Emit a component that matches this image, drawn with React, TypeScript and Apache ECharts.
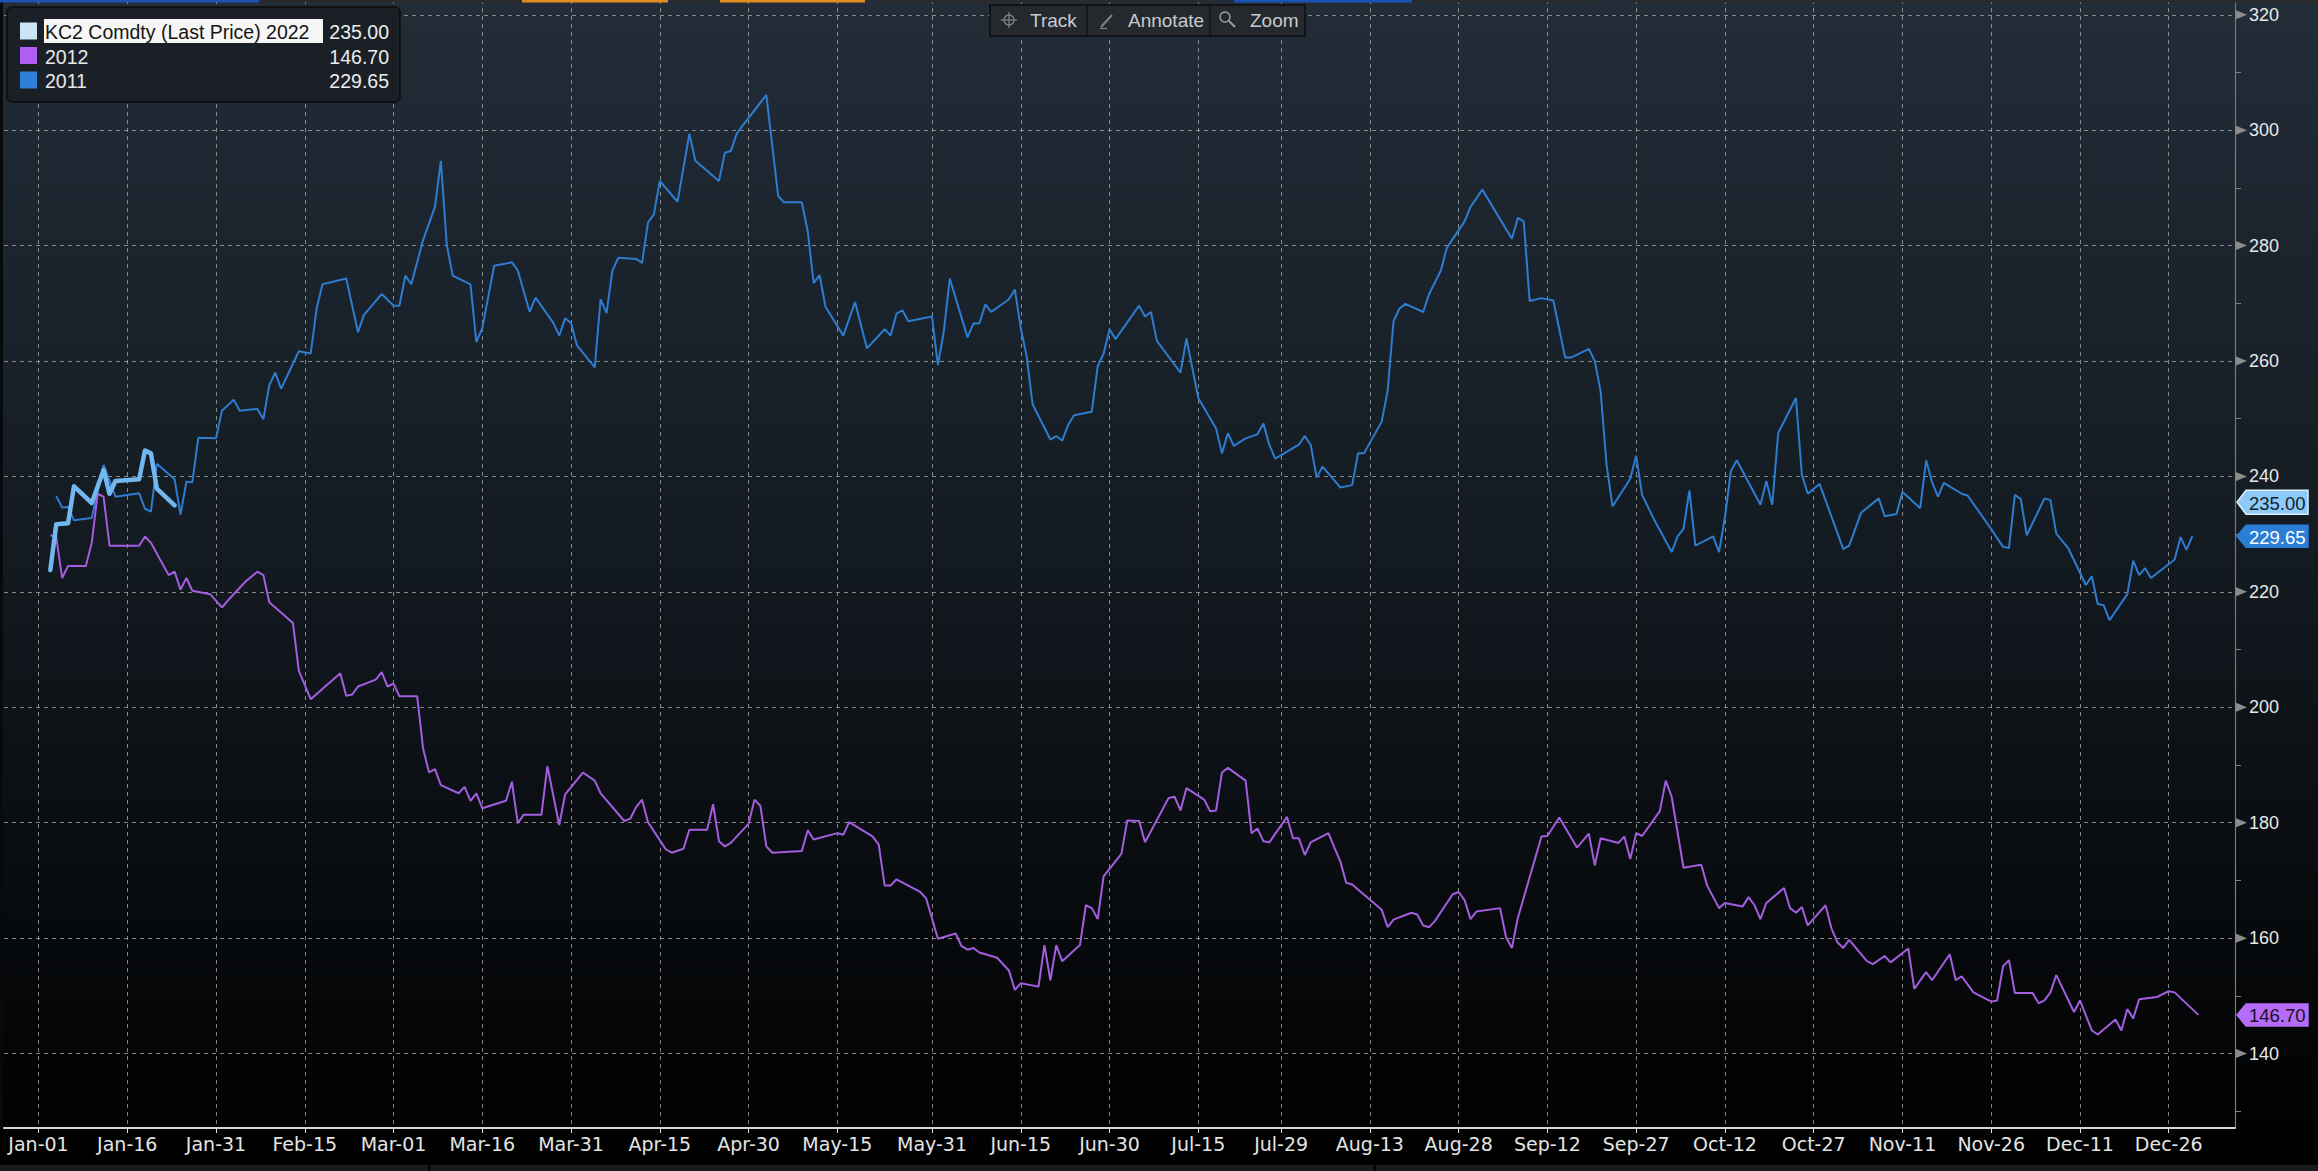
import React, { useEffect, useRef } from "react";
import * as echarts from "echarts";

const W = 2318;
const H = 1171;

// ---- axis ticks (leap-year calendar, day 0 = Jan-01) ----
const tickLabels = [
  "Jan-01", "Jan-16", "Jan-31", "Feb-15", "Mar-01", "Mar-16", "Mar-31", "Apr-15", "Apr-30",
  "May-15", "May-31", "Jun-15", "Jun-30", "Jul-15", "Jul-29", "Aug-13", "Aug-28", "Sep-12",
  "Sep-27", "Oct-12", "Oct-27", "Nov-11", "Nov-26", "Dec-11", "Dec-26",
];
const monthNames = ["Jan", "Feb", "Mar", "Apr", "May", "Jun", "Jul", "Aug", "Sep", "Oct", "Nov", "Dec"];
const monthDays = [31, 29, 31, 30, 31, 30, 31, 31, 30, 31, 30, 31];
const yTicks = [140, 160, 180, 200, 220, 240, 260, 280, 300, 320];
const yMinorTicks = [130, 150, 170, 190, 210, 230, 250, 270, 290, 310];

// ---- series ----
const seriesNames = ["KC2 Comdty (Last Price) 2022", "2012", "2011"];

const days2022 = [2, 3, 5, 6, 9, 11, 12, 13, 17, 18, 19, 20, 23];
const vals2022 = [223.8, 231.7, 231.9, 238.3, 235.4, 241.1, 237.0, 239.2, 239.5, 244.5, 244.0, 237.9, 235.0];

const days2012 = [
  2, 3, 4, 5, 8, 9, 10, 11, 12, 17, 18, 19, 22, 23, 24, 25, 26, 29, 31, 32, 35, 37, 38, 39, 43, 44, 46,
  51, 52, 53, 54, 57, 58, 59, 60, 61, 64, 65, 66, 67, 68, 71, 72, 73, 74, 75, 79, 80, 81, 82, 85, 86,
  88, 89, 92, 94, 95, 99, 100, 101, 102, 103, 106, 107, 109, 110, 113, 114, 115, 116, 117, 120, 121,
  122, 123, 124, 129, 130, 131, 135, 136, 137, 141, 142, 143, 144, 145, 149, 150, 152, 155, 156, 157,
  158, 159, 162, 164, 165, 166, 169, 170, 171, 172, 173, 176, 177, 178, 179, 180, 183, 184, 186, 187,
  191, 192, 193, 194, 197, 198, 199, 200, 201, 204, 205, 206, 207, 208, 211, 212, 213, 214, 215, 218,
  219, 220, 221, 222, 227, 228, 229, 232, 233, 234, 235, 236, 239, 240, 241, 242, 243, 247, 248, 249,
  250, 254, 255, 257, 260, 262, 263, 264, 267, 268, 269, 270, 271, 274, 275, 276, 278, 281, 282, 284,
  285, 288, 289, 290, 291, 292, 295, 296, 297, 298, 299, 302, 303, 304, 305, 306, 309, 310, 312, 313,
  316, 317, 319, 320, 323, 324, 325, 327, 330, 331, 332, 333, 334, 337, 338, 339, 340, 341, 344, 345,
  347, 348, 351, 352, 353, 354, 355, 358, 360, 361, 365,
];
const vals2012 = [
  229.8, 229.5, 222.4, 224.5, 224.5, 228.5, 237.0, 236.5, 228.0, 228.0, 229.6, 228.5, 222.9, 223.5,
  220.4, 222.4, 220.2, 219.6, 217.3, 218.5, 221.8, 223.5, 222.9, 218.2, 214.6, 206.3, 201.4,
  205.9, 202.0, 202.2, 203.6, 204.8, 206.1, 203.6, 204.1, 201.9, 201.9, 192.8, 188.7, 189.3, 186.5,
  185.1, 186.2, 183.8, 185.1, 182.5, 183.8, 187.1, 179.9, 181.4, 181.4, 189.8,
  179.6, 184.9, 188.7, 187.3, 185.1, 180.3, 180.7, 182.7, 184.0, 180.1, 175.4, 174.8, 175.5, 178.8,
  178.8, 183.2, 176.8, 175.9, 176.5, 179.8, 184.0,
  182.9, 175.9, 174.8, 175.1, 178.7, 177.1, 178.2, 177.9, 180.1, 177.6, 176.2, 169.1, 169.1, 170.2,
  168.0, 166.9, 159.9, 160.8, 158.6, 158.0,
  158.3, 157.5, 156.6, 154.4, 151.0, 152.2, 151.6, 158.8, 152.7, 158.8, 156.0, 158.8, 165.7, 165.2,
  163.3, 170.7, 174.6, 180.4, 180.3, 176.6,
  184.3, 184.5, 182.1, 186.0, 184.0, 182.0, 182.1, 188.7, 189.5, 187.3, 178.2, 179.0, 176.8, 176.6,
  181.0, 177.3, 177.3, 174.4, 176.6, 178.2,
  175.7, 173.3, 169.6, 169.3, 164.9, 161.9, 163.2, 164.4, 164.1, 162.2, 161.9, 163.0, 167.6, 168.0,
  166.6, 163.3, 164.6, 165.2, 160.2, 158.3,
  163.5, 177.6, 177.7, 180.9, 175.7, 178.1, 172.6, 177.3, 176.5, 177.6, 173.7, 178.2, 177.7, 182.0,
  187.3, 184.5, 172.2, 172.7, 169.1, 165.2,
  166.1, 165.5, 167.1, 165.7, 163.3, 166.1, 168.7, 165.2, 164.4, 165.4, 162.2, 165.7, 161.7, 159.3,
  158.3, 159.7, 156.0, 155.5, 156.9, 155.8,
  158.2, 151.2, 154.1, 152.7, 157.2, 152.7, 153.4, 150.6, 149.0, 149.2, 155.1, 156.2, 150.5, 150.5,
  148.7, 149.2, 150.6, 153.6, 147.2, 149.2,
  144.0, 143.3, 145.9, 144.0, 147.7, 146.1, 149.4, 149.8, 150.8, 150.6, 146.7,
];

const days2011 = [
  3, 4, 5, 6, 9, 11, 13, 17, 18, 19, 20, 23, 24, 25, 26, 27, 30, 31, 33, 34, 37, 38, 39, 40, 41, 44,
  46, 47, 48, 52, 54, 55, 58, 60, 61, 62, 63, 65, 67, 68, 69, 70, 73, 74, 75, 77, 80, 81, 83, 84, 87,
  88, 89, 90, 91, 94, 95, 96, 97, 98, 101, 102, 103, 104, 105, 108, 110, 111, 115, 116, 117, 118,
  119, 123, 125, 126, 129, 130, 131, 132, 133, 136, 138, 140, 143, 144, 145, 146, 147, 151, 152, 153,
  154, 157, 158, 159, 160, 161, 164, 165, 166, 167, 168, 171, 172, 173, 174, 175, 178, 179, 180, 181,
  182, 186, 187, 188, 189, 193, 194, 196, 199, 200, 201, 202, 204, 206, 207, 208, 209, 213, 214, 215,
  216, 217, 220, 222, 223, 224, 227, 228, 229, 230, 231, 234, 235, 237, 238, 241, 242, 244, 249, 250,
  251, 252, 254, 256, 258, 259, 262, 263, 264, 265, 266, 269, 270, 271, 273, 276, 277, 278, 279, 280,
  283, 284, 285, 286, 287, 291, 292, 293, 294, 297, 298, 299, 301, 305, 306, 308, 311, 312, 314, 315,
  318, 319, 320, 321, 322, 325, 326, 330, 332, 333, 334, 335, 336, 339, 340, 341, 343, 346, 347, 348,
  349, 350, 353, 354, 355, 356, 357, 361, 362, 363, 364,
];
const vals2011 = [
  236.6, 234.6, 234.7, 232.4, 232.8, 242.0, 236.5, 237.1, 234.4, 233.9, 242.2, 239.5, 233.4, 239.1,
  239.0, 246.7, 246.6, 251.4, 253.3, 251.4, 251.7, 249.9, 255.8, 258.0, 255.2, 261.7,
  261.3, 269.1, 273.3, 274.3, 265.0, 268.0, 271.6, 269.6, 269.6, 274.8, 273.3, 281.0, 286.7, 294.7,
  280.1, 274.8, 273.3, 263.3, 265.7, 276.5, 277.1, 275.7, 268.5, 271.0, 266.6,
  264.4, 267.4, 266.6, 262.7, 258.9, 270.7, 268.3, 275.7, 277.9, 277.7, 277.0, 284.0, 285.4, 291.2,
  287.6, 299.4, 294.7, 291.2, 296.1, 296.4, 299.4,
  300.8, 306.1, 288.6, 287.5, 287.5, 282.5, 273.5, 274.9, 269.4, 264.4, 270.2, 262.2, 265.5, 264.4,
  268.2, 268.8, 266.9, 267.7, 259.3, 265.2,
  274.3, 264.1, 266.5, 266.5, 269.8, 268.5, 270.7, 272.4, 265.7, 260.8, 252.5, 246.4, 247.0, 246.2,
  248.9, 250.6, 251.2, 259.1, 261.3, 265.5,
  263.8, 269.6, 267.7, 268.5, 263.5, 258.0, 263.9, 253.6, 248.3, 244.0, 247.5, 245.3, 246.6, 247.3,
  249.2, 245.5, 243.1, 245.5, 247.0, 245.5,
  239.8, 241.7, 238.1, 238.5, 244.0, 244.0, 249.5, 254.9, 266.9, 269.1, 269.9, 268.5, 271.6, 275.7,
  279.6, 284.2, 286.7, 289.7, 281.2, 284.8,
  284.2, 270.4, 270.9, 270.5, 260.6, 260.6, 262.1, 260.0, 254.7, 242.0, 234.8, 239.6, 243.6, 236.8,
  232.6, 226.9, 229.6, 230.9, 237.6, 228.0,
  229.6, 226.9, 232.9, 240.9, 242.8, 235.1, 239.2, 235.1, 247.5, 253.6, 240.3, 237.0, 238.7, 227.4,
  228.0, 233.7, 236.2, 233.1, 233.5, 237.3,
  234.5, 242.8, 239.0, 236.5, 238.9, 237.0, 236.7, 230.9, 227.8, 227.6, 236.8, 236.1, 229.8, 236.2,
  235.9, 230.1, 227.6, 221.2, 222.7, 217.9,
  217.7, 215.1, 219.6, 225.4, 222.9, 224.1, 222.4, 225.6, 229.5, 227.3, 229.65,
];

// ---- styling ----
const FONT = '"Liberation Sans", Arial, sans-serif';
const FONT_X = '"DejaVu Sans", Verdana, sans-serif';
const COLOR_2022 = "#72b7ef";
const COLOR_2012 = "#a35ddf";
const COLOR_2011 = "#2e7cd0";

const X_MIN = -5.83;
const X_MAX = 371.2;
const Y_MIN = 127.1;
const Y_MAX = 322.56;

function dayIndex(label: string): number {
  const [m, d] = label.split("-");
  const mi = monthNames.indexOf(m);
  let n = 0;
  for (let i = 0; i < mi; i++) n += monthDays[i];
  return n + parseInt(d, 10) - 1;
}
const tickDays = tickLabels.map(dayIndex);

function pairs(days: number[], vals: number[]) {
  return days.map((d, i) => [d, vals[i]]);
}

function text(x: number, y: number, s: string, fill: string, size: number, align = "left", family = FONT) {
  return {
    type: "text",
    x,
    y,
    z: 110,
    style: {
      text: s,
      fill,
      fontSize: size,
      fontFamily: family,
      textAlign: align,
      align,
      textVerticalAlign: "middle",
      verticalAlign: "middle",
    },
  };
}

export default function App() {
  const ref = useRef<HTMLDivElement>(null);

  useEffect(() => {
    document.body.style.margin = "0";
    document.body.style.background = "#000";
    if (!ref.current) return;
    const chart = echarts.init(ref.current, undefined, { renderer: "svg", width: W, height: H });

    const splitStyle = { color: "#a3a3a3", type: [4, 4], width: 1, opacity: 0.8 };

    chart.setOption({
      animation: false,
      backgroundColor: new echarts.graphic.LinearGradient(0, 0, 0, 1, [
        { offset: 0, color: "#222d38" },
        { offset: 0.45, color: "#141b22" },
        { offset: 0.93, color: "#020304" },
        { offset: 1, color: "#000000" },
      ]),
      grid: { left: 4, right: 83, top: 0, bottom: 43, containLabel: false, outerBoundsMode: "none" },
      xAxis: {
        type: "value",
        min: X_MIN,
        max: X_MAX,
        axisLine: { show: true, onZero: false, lineStyle: { color: "#d6d6d6", width: 2 } },
        axisTick: { show: true, customValues: tickDays, length: 5, lineStyle: { color: "#e0e0e0", width: 1 } },
        axisLabel: {
          customValues: tickDays,
          formatter: (v: number) => {
            const i = tickDays.indexOf(Math.round(v));
            return i >= 0 ? tickLabels[i] : "";
          },
          color: "#e4e4e4",
          fontSize: 19,
          fontFamily: FONT_X,
          margin: 6,
        },
        splitLine: { show: true, lineStyle: splitStyle },
      },
      yAxis: [
        {
          type: "value",
          position: "right",
          min: Y_MIN,
          max: Y_MAX,
          axisLine: { show: true, onZero: false, lineStyle: { color: "#7a7a7a", width: 1.2 } },
          axisTick: { show: true, customValues: yTicks, length: 8, lineStyle: { color: "#8a8a8a", width: 1 } },
          axisLabel: {
            customValues: yTicks,
            color: "#e8e8e8",
            fontSize: 18,
            fontFamily: FONT,
            margin: 14,
          },
          splitLine: { show: true, lineStyle: splitStyle },
        },
        {
          type: "value",
          position: "right",
          min: Y_MIN,
          max: Y_MAX,
          axisLine: { show: false, onZero: false },
          axisTick: { show: true, customValues: yMinorTicks, length: 6, lineStyle: { color: "#808080", width: 1 } },
          axisLabel: { show: false },
          splitLine: { show: false },
        },
      ],
      series: [
        {
          name: seriesNames[2],
          type: "line",
          data: pairs(days2011, vals2011),
          showSymbol: false,
          symbol: "none",
          z: 2,
          lineStyle: { color: COLOR_2011, width: 2 },
        },
        {
          name: seriesNames[1],
          type: "line",
          data: pairs(days2012, vals2012),
          showSymbol: false,
          symbol: "none",
          z: 3,
          lineStyle: { color: COLOR_2012, width: 2 },
        },
        {
          name: seriesNames[0],
          type: "line",
          data: pairs(days2022, vals2022),
          showSymbol: false,
          symbol: "none",
          z: 4,
          lineStyle: { color: COLOR_2022, width: 4.5, cap: "round", join: "round" },
        },
      ],
    });

    const last2022 = vals2022[vals2022.length - 1];
    const last2012 = vals2012[vals2012.length - 1];
    const last2011 = vals2011[vals2011.length - 1];

    const axisX = W - 83;
    const toY = (v: number) => chart.convertToPixel({ yAxisIndex: 0 }, v) as number;

    const els: any[] = [];

    // left edge strip
    els.push({ type: "rect", z: 100, shape: { x: 0, y: 0, width: 3, height: H - 43 }, style: { fill: "#07090b" } });

    // tick triangles on the y axis
    yTicks.forEach((v) => {
      const y = toY(v);
      els.push({
        type: "polygon",
        z: 101,
        shape: { points: [[axisX + 1, y - 4.5], [axisX + 12, y], [axisX + 1, y + 4.5]] },
        style: { fill: "#8c8c8c" },
      });
    });

    // value tags on the right axis
    const tags = [
      { v: last2011, fill: "#2b7ed6", stroke: "#2b7ed6", tc: "#ffffff", h: 22 },
      { v: last2022, fill: "#8ecaf8", stroke: "#dcefff", tc: "#13202c", h: 24 },
      { v: last2012, fill: "#b56cf6", stroke: "#b56cf6", tc: "#1a0f28", h: 22 },
    ].map((t) => ({ ...t, y: toY(t.v) }));
    const ordered = [...tags].sort((a, b) => b.y - a.y);
    for (let i = 1; i < ordered.length; i++) {
      if (ordered[i - 1].y - ordered[i].y < 34) ordered[i].y = ordered[i - 1].y - 34;
    }
    tags.forEach((t) => {
      const x0 = axisX + 2;
      const x1 = W - 10;
      const hh = t.h / 2;
      els.push({
        type: "polygon",
        z: 102,
        shape: {
          points: [[x0, t.y], [x0 + 9, t.y - hh], [x1, t.y - hh], [x1, t.y + hh], [x0 + 9, t.y + hh]],
        },
        style: { fill: t.fill, stroke: t.stroke, lineWidth: 1.5 },
      });
      els.push({ ...text(x0 + 12, t.y + 1, t.v.toFixed(2), t.tc, 18.5), z: 103 });
    });

    // legend box
    els.push({
      type: "rect",
      z: 105,
      shape: { x: 7, y: 7, width: 393, height: 95, r: 5 },
      style: { fill: "#1b2026", stroke: "#0b0d0f", lineWidth: 1.5 },
    });
    const rows = [
      { name: seriesNames[0], value: last2022, sw: "#cde4f8", y: 31 },
      { name: seriesNames[1], value: last2012, sw: "#b25ef2", y: 55.5 },
      { name: seriesNames[2], value: last2011, sw: "#2f7fd8", y: 80 },
    ];
    rows.forEach((r, i) => {
      els.push({ type: "rect", z: 106, shape: { x: 20, y: r.y - 8.5, width: 17, height: 17 }, style: { fill: r.sw } });
      if (i === 0) {
        els.push({ type: "rect", z: 106, shape: { x: 44, y: r.y - 12, width: 279, height: 24 }, style: { fill: "#f6f6f6" } });
        els.push(text(45, r.y + 1, r.name, "#141414", 19.5));
      } else {
        els.push(text(45, r.y + 1, r.name, "#e8e8e8", 19.5));
      }
      els.push(text(389, r.y + 1, r.value.toFixed(2), "#ececec", 19.5, "right"));
    });

    // toolbar
    els.push({
      type: "rect",
      z: 105,
      shape: { x: 990, y: 5, width: 315, height: 31 },
      style: { fill: "#25292d", stroke: "#0c0d0e", lineWidth: 1.5 },
    });
    [1087, 1210].forEach((x) =>
      els.push({ type: "line", z: 106, shape: { x1: x, y1: 6, x2: x, y2: 35 }, style: { stroke: "#15181a", lineWidth: 2 } })
    );
    const ic = "#7e8388";
    els.push({ type: "circle", z: 106, shape: { cx: 1009, cy: 20, r: 5 }, style: { fill: "none", stroke: ic, lineWidth: 1.3 } });
    els.push({ type: "line", z: 106, shape: { x1: 1001, y1: 20, x2: 1017, y2: 20 }, style: { stroke: ic, lineWidth: 1.3 } });
    els.push({ type: "line", z: 106, shape: { x1: 1009, y1: 12, x2: 1009, y2: 28 }, style: { stroke: ic, lineWidth: 1.3 } });
    els.push({ type: "line", z: 106, shape: { x1: 1101, y1: 27, x2: 1112, y2: 15 }, style: { stroke: ic, lineWidth: 2 } });
    els.push({ type: "line", z: 106, shape: { x1: 1100, y1: 28.5, x2: 1107, y2: 28.5 }, style: { stroke: ic, lineWidth: 1.3 } });
    els.push({ type: "circle", z: 106, shape: { cx: 1225, cy: 17, r: 5 }, style: { fill: "none", stroke: "#9aa0a6", lineWidth: 1.4 } });
    els.push({ type: "line", z: 106, shape: { x1: 1229, y1: 21, x2: 1235, y2: 27 }, style: { stroke: "#9aa0a6", lineWidth: 2 } });
    els.push(text(1030, 20.5, "Track", "#c6cbd0", 19));
    els.push(text(1128, 20.5, "Annotate", "#c6cbd0", 19));
    els.push(text(1250, 20.5, "Zoom", "#c6cbd0", 19));

    // top UI bars
    const topBars: [number, number, string][] = [
      [0, 259, "#1b52b6"], [263, 517, "#2a2a2a"], [522, 668, "#e38c1e"], [673, 714, "#2a2a2a"],
      [720, 865, "#e38c1e"], [883, 1215, "#2a2a2a"], [1234, 1412, "#1b52b6"], [1416, 1594, "#2a2a2a"],
      [1634, 2318, "#2a2a2a"],
    ];
    topBars.forEach(([a, b, c]) =>
      els.push({ type: "rect", z: 104, shape: { x: a, y: 0, width: b - a, height: 2.5 }, style: { fill: c } })
    );

    // bottom UI bar
    els.push({ type: "rect", z: 104, shape: { x: 0, y: 1165, width: W, height: 6 }, style: { fill: "#1a1a1a" } });
    [429, 1375].forEach((x) =>
      els.push({ type: "rect", z: 105, shape: { x: x - 1, y: 1165, width: 2, height: 6 }, style: { fill: "#000" } })
    );

    chart.setOption({ graphic: { elements: els } });

    return () => chart.dispose();
  }, []);

  return <div ref={ref} style={{ width: W, height: H }} />;
}
